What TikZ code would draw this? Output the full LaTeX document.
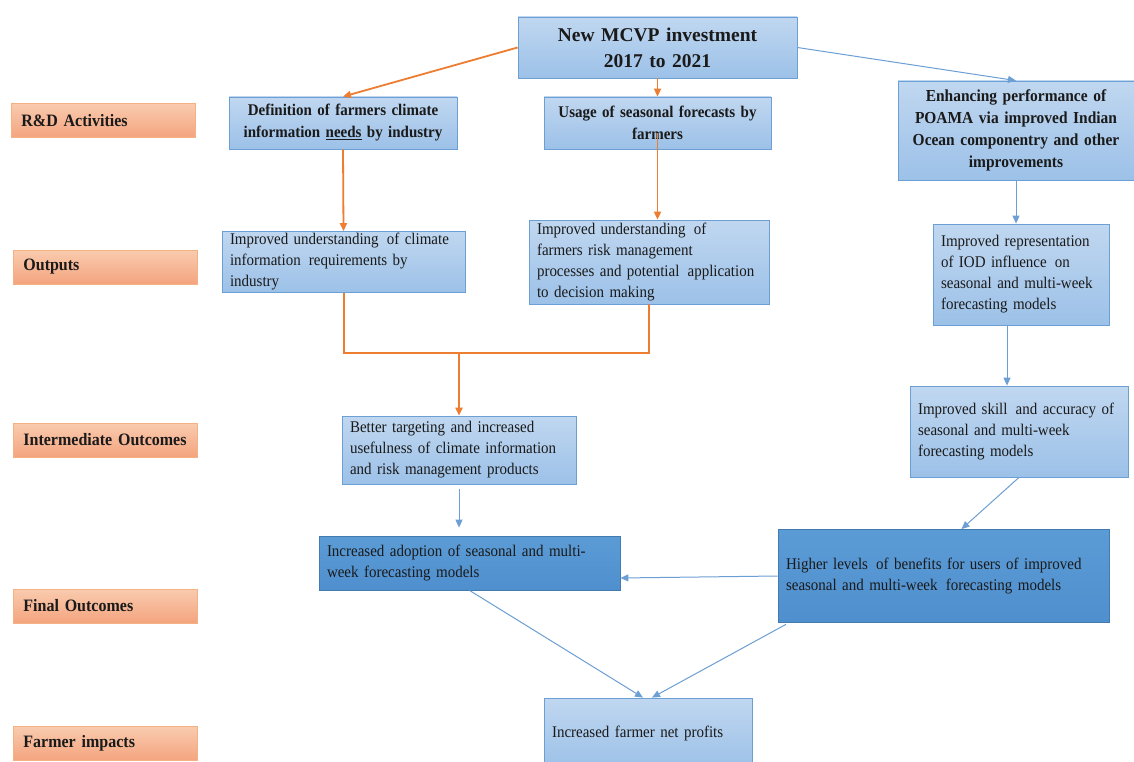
\documentclass[tikz,border=0pt]{standalone}
\usepackage{fontspec}
\setmainfont{Liberation Serif}[FakeStretch=0.92, WordSpace=0.8]
\newfontfamily\titlefont{Liberation Serif}
\usetikzlibrary{arrows.meta, positioning, calc}
\definecolor{cBlueLine}{HTML}{6C9FD3}
\definecolor{cBlueTop}{HTML}{C0D7F0}
\definecolor{cBlueBot}{HTML}{9CC1E8}
\definecolor{cBlueDark}{HTML}{5B9BD5}
\definecolor{cBlueDeep}{HTML}{4F8FCE}
\definecolor{cOrange}{HTML}{ED7D31}
\definecolor{cSalmonTop}{HTML}{F9CBAF}
\definecolor{cSalmonBot}{HTML}{F4A47E}
\definecolor{cText}{HTML}{1A1A1A}

\begin{document}
\begin{tikzpicture}[x=1pt, y=-1pt,
  lvl/.style={draw=cOrange!60, top color=cSalmonTop, bottom color=cSalmonBot,
    line width=0.8pt, minimum width=184pt, minimum height=34pt, anchor=west,
    text width=164pt, align=left, inner xsep=10pt, text=cText,
    font=\fontsize{17.4}{19}\selectfont\bfseries},
  blt/.style={draw=cBlueLine, top color=cBlueTop, bottom color=cBlueBot,
    line width=0.8pt, inner xsep=8pt, inner ysep=2pt, text=cText,
    font=\fontsize{16.3}{21}\selectfont},
  head/.style={blt, align=center, inner xsep=5pt, font=\fontsize{16.3}{22}\selectfont\bfseries},
  dark/.style={blt, draw=cBlueDeep!85!black, top color=cBlueDark, bottom color=cBlueDeep},
  oarrow/.style={draw=cOrange, line width=1.8pt, -{Triangle[length=8pt, width=7pt]}},
  omerge/.style={draw=cOrange, line width=2pt},
  barrow/.style={draw=cBlueLine, line width=1pt, -{Triangle[length=8pt, width=7pt]}}
]
  \useasboundingbox[fill=white] (0,0) rectangle (1134,762);

  \node[lvl] (rd) at (11,120.5) {R\&D Activities};
  \node[lvl] (outp) at (13,267) {Outputs};
  \node[lvl] (inter) at (13,440) {Intermediate Outcomes};
  \node[lvl] (final) at (13,606) {Final Outcomes};
  \node[lvl] (farm) at (13,743.5) {Farmer impacts};

  \node[head, minimum width=279pt, minimum height=61pt, text width=269pt,
    font=\titlefont\fontsize{19.5}{26}\selectfont\bfseries] (mcvp) at (657.5,47.5)
    {New MCVP investment\\ 2017 to 2021};

  \node[head, minimum width=228pt, minimum height=52pt, text width=218pt] (defn) at (343,123)
    {Definition of farmers climate\\ information \underline{needs} by industry};
  \node[head, minimum width=227pt, minimum height=52pt, text width=217pt] (usage) at (657.5,123)
    {Usage of seasonal forecasts by\\ farmers};
  \node[head, minimum width=236pt, minimum height=99pt, text width=226pt,
    font=\fontsize{16.8}{22}\selectfont\bfseries] (enh) at (1016,130.5)
    {Enhancing performance of\\ POAMA via improved Indian\\ Ocean componentry and other\\ improvements};

  \node[blt, minimum width=243pt, minimum height=60pt, text width=227pt, align=left] (outA) at (343.5,262)
    {Improved understanding\, of climate\\ information\, requirements by\\ industry};
  \node[blt, minimum width=240pt, minimum height=84pt, text width=224pt, align=left] (outB) at (649,262)
    {Improved understanding\, of\\ farmers risk management\\ processes and potential\, application\\ to decision making};
  \node[blt, minimum width=176pt, minimum height=101pt, text width=160pt, align=left] (outC) at (1021,274.5)
    {Improved representation\\ of IOD influence\, on\\ seasonal and multi-week\\ forecasting models};

  \node[blt, minimum width=234pt, minimum height=68pt, text width=218pt, align=left] (intA) at (459,450)
    {Better targeting and increased\\ usefulness of climate information\\ and risk management products};
  \node[blt, minimum width=218pt, minimum height=91pt, text width=202pt, align=left] (intB) at (1019,431.5)
    {Improved skill\, and accuracy of\\ seasonal and multi-week\\ forecasting models};

  \node[dark, minimum width=301pt, minimum height=54pt, text width=285pt, align=left] (finA) at (469.5,563)
    {Increased adoption of seasonal and multi-\\ week forecasting models};
  \node[dark, minimum width=331pt, minimum height=93pt, text width=315pt, align=left] (finB) at (943.5,576)
    {Higher levels\, of benefits for users of improved\\ seasonal and multi-week\, forecasting models};

  \node[blt, minimum width=208pt, minimum height=70pt, text width=192pt, align=left] (net) at (648,733)
    {Increased farmer net profits};

  \coordinate (jn) at (459,353);

  \draw[oarrow] (mcvp.west) -- (defn.north);
  \draw[oarrow] (mcvp.south) -- (usage.north);
  \draw[oarrow] (defn.south) -- (outA.north);
  \draw[oarrow] ([yshift=-10pt]usage.center) -- (usage.center |- outB.north);
  \draw[omerge] (outA.south) |- (jn) -| (outB.south);
  \draw[oarrow, line width=2pt] (jn) -- (intA.north);

  \draw[barrow] (mcvp.east) -- (enh.north);
  \draw[barrow] (enh.south) -- (enh.south |- outC.north);
  \draw[barrow] ([xshift=-14pt]outC.south) -- ([xshift=-12pt]intB.north);
  \draw[barrow] (intB.south) -- ([xshift=18pt]finB.north);
  \draw[barrow, shorten <=5pt, shorten >=8pt] (intA.south) -- (intA.south |- finA.north);
  \draw[barrow] (finB.west) -- ([yshift=-15pt]finA.east);
  \draw[barrow] (finA.south) -- ([xshift=-5pt]net.north);
  \draw[barrow, shorten <=3pt] ([xshift=11pt]finB.south west) -- ([xshift=4pt]net.north);
\end{tikzpicture}
\end{document}
